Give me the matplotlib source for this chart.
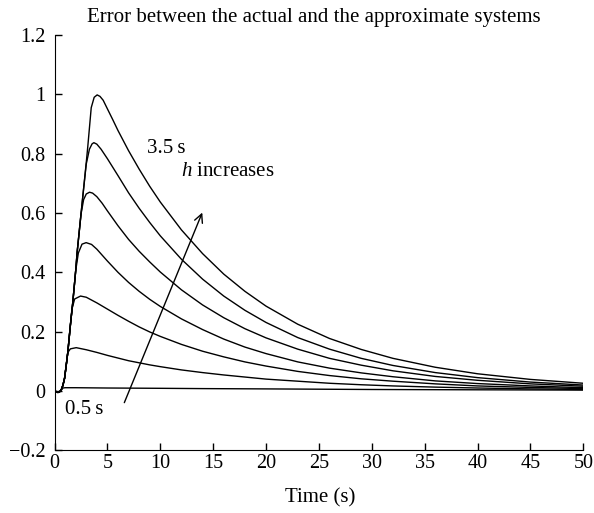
import numpy as np
import matplotlib
matplotlib.use("Agg")
from matplotlib import pyplot as plt

plt.rcParams['font.family'] = ['Liberation Serif', 'DejaVu Serif']
plt.rcParams['mathtext.fontset'] = 'custom'
plt.rcParams['mathtext.it'] = 'Liberation Serif:italic'
plt.rcParams['mathtext.rm'] = 'Liberation Serif'

# error curves for each delay h (0.5 s ... 3.5 s)
t_h05 = [0, 0.15, 0.32, 0.5, 0.65, 0.8, 1.0, 2, 5, 10, 14, 20, 30, 40, 50]
e_h05 = [0, -0.002, -0.005, -0.002, 0.005, 0.01, 0.011, 0.011, 0.010, 0.009, 0.008, 0.007, 0.005, 0.004, 0.003]

t_h10 = [0, 0.15, 0.32, 0.5, 0.65, 0.8, 0.95, 1.1, 1.26, 1.5, 2.05, 3, 4, 5, 6, 7, 8, 9, 10, 12, 14, 16, 18, 20, 23, 26, 29, 32, 36, 40, 45, 50]
e_h10 = [0, -0.002, -0.005, -0.002, 0.005, 0.02, 0.043, 0.085, 0.130, 0.142, 0.146, 0.139, 0.130, 0.120, 0.111, 0.102,
         0.095, 0.088, 0.082, 0.071, 0.062, 0.054, 0.047, 0.040, 0.033, 0.026, 0.021, 0.017, 0.013, 0.010, 0.007, 0.005]

t_h15 = [0, 0.15, 0.32, 0.5, 0.65, 0.8, 0.95, 1.1, 1.26, 1.5, 1.64, 1.9, 2.46, 3, 4, 5, 6, 7, 8, 9, 10, 12, 14, 16, 18, 20, 23, 26, 29, 32, 36, 40, 45, 50]
e_h15 = [0, -0.002, -0.005, -0.002, 0.005, 0.02, 0.043, 0.085, 0.132, 0.222, 0.275, 0.31, 0.320, 0.316, 0.297, 0.276, 0.255, 0.235,
         0.216, 0.199, 0.184, 0.157, 0.134, 0.115, 0.098, 0.084, 0.066, 0.052, 0.041, 0.033, 0.024, 0.017, 0.012, 0.008]

t_h20 = [0, 0.15, 0.32, 0.5, 0.65, 0.8, 0.95, 1.1, 1.26, 1.5, 1.73, 2.0, 2.25, 2.6, 2.99, 3.5, 4, 5, 6, 7, 8, 9, 10, 12, 14, 16, 18, 20, 23, 26, 29, 32, 36, 40, 45, 50]
e_h20 = [0, -0.002, -0.005, -0.002, 0.005, 0.02, 0.043, 0.085, 0.132, 0.222, 0.300, 0.405, 0.465, 0.495, 0.500, 0.494, 0.478, 0.438, 0.400, 0.366,
         0.336, 0.309, 0.285, 0.243, 0.207, 0.175, 0.148, 0.126, 0.098, 0.077, 0.061, 0.048, 0.034, 0.025, 0.017, 0.011]

t_h25 = [0, 0.15, 0.32, 0.5, 0.65, 0.8, 0.95, 1.1, 1.26, 1.5, 1.73, 2.0, 2.14, 2.5, 2.75, 3.0, 3.31, 3.6, 4, 4.5, 5, 6, 7, 8, 9, 10, 12, 14, 16, 18, 20, 23, 26, 29, 32, 36, 40, 45, 50]
e_h25 = [0, -0.002, -0.005, -0.002, 0.005, 0.02, 0.043, 0.085, 0.132, 0.222, 0.300, 0.405, 0.468, 0.595, 0.645, 0.664, 0.670, 0.667, 0.655, 0.633, 0.607, 0.557, 0.511,
         0.471, 0.435, 0.401, 0.341, 0.290, 0.247, 0.210, 0.179, 0.141, 0.110, 0.087, 0.068, 0.049, 0.036, 0.024, 0.016]

t_h30 = [0, 0.15, 0.32, 0.5, 0.65, 0.8, 0.95, 1.1, 1.26, 1.5, 1.73, 2.0, 2.14, 2.5, 2.68, 3.0, 3.3, 3.55, 3.72, 4.0, 4.4, 5, 6, 7, 8, 9, 10, 12, 14, 16, 18, 20, 23, 26, 29, 32, 36, 40, 45, 50]
e_h30 = [0, -0.002, -0.005, -0.002, 0.005, 0.02, 0.043, 0.085, 0.132, 0.222, 0.300, 0.405, 0.468, 0.595, 0.658, 0.765, 0.815, 0.833, 0.837, 0.832, 0.815, 0.783, 0.726, 0.668,
         0.616, 0.568, 0.523, 0.444, 0.377, 0.320, 0.272, 0.231, 0.180, 0.141, 0.110, 0.086, 0.062, 0.045, 0.030, 0.020]

t_h35 = [0, 0.15, 0.32, 0.5, 0.65, 0.8, 0.95, 1.1, 1.26, 1.5, 1.73, 2.0, 2.14, 2.5, 2.68, 3.0, 3.15, 3.47, 3.75, 4.03, 4.3, 4.6, 5, 5.5, 6, 7, 8, 9, 10, 12, 14, 16, 18, 20, 23, 26, 29, 32, 36, 40, 45, 50]
e_h35 = [0, -0.002, -0.005, -0.002, 0.005, 0.02, 0.043, 0.085, 0.132, 0.222, 0.300, 0.405, 0.468, 0.595, 0.658, 0.770, 0.826, 0.955, 0.990, 0.998, 0.993, 0.980, 0.951, 0.915, 0.878, 0.810,
         0.748, 0.690, 0.637, 0.543, 0.463, 0.394, 0.336, 0.286, 0.225, 0.177, 0.140, 0.110, 0.080, 0.058, 0.039, 0.026]

curves = [(t_h05, e_h05), (t_h10, e_h10), (t_h15, e_h15), (t_h20, e_h20),
          (t_h25, e_h25), (t_h30, e_h30), (t_h35, e_h35)]

x_ticks = [0, 5, 10, 15, 20, 25, 30, 35, 40, 45, 50]
y_ticks = [-0.2, 0, 0.2, 0.4, 0.6, 0.8, 1, 1.2]
y_labels = ['\u22120.2', '0', '0.2', '0.4', '0.6', '0.8', '1', '1.2']

fig = plt.figure(figsize=(5.94, 5.13), dpi=100)
ax = fig.add_axes([0.0918, 0.1222, 0.8902, 0.8096])

for t, e in curves:
    ax.plot(t, e, color='black', lw=1.0)

ax.set_xlim(0, 50)
ax.set_ylim(-0.2, 1.2)
ax.set_xticks(x_ticks)
ax.set_yticks(y_ticks)
ax.set_yticklabels(y_labels)
ax.spines['top'].set_visible(False)
ax.spines['right'].set_visible(False)
ax.tick_params(direction='in', length=5, width=1, labelsize=14.5)
ax.tick_params(axis='y', pad=6.5)
ax.tick_params(axis='x', pad=2.5)

fig.text(87 / 594, 1 - 21.7 / 513, 'Error between the actual and the approximate systems',
         fontsize=15, ha='left', va='baseline')
ax.set_xlabel('Time (s)', fontsize=15)
ax.xaxis.set_label_coords(0.502, -0.091)

ax.annotate('', xy=(14.07, 0.61), xytext=(6.5, -0.048),
            arrowprops=dict(arrowstyle='->', color='black', lw=1.0, mutation_scale=15))
ax.text(8.72, 0.801, '3.5\u2009s', fontsize=15, va='baseline', ha='left')
ax.text(11.93, 0.725, '$h$ increases', fontsize=15, va='baseline', ha='left')
ax.text(0.99, -0.076, '0.5\u2009s', fontsize=15, va='baseline', ha='left')

fig.savefig('out.png', dpi=100)
